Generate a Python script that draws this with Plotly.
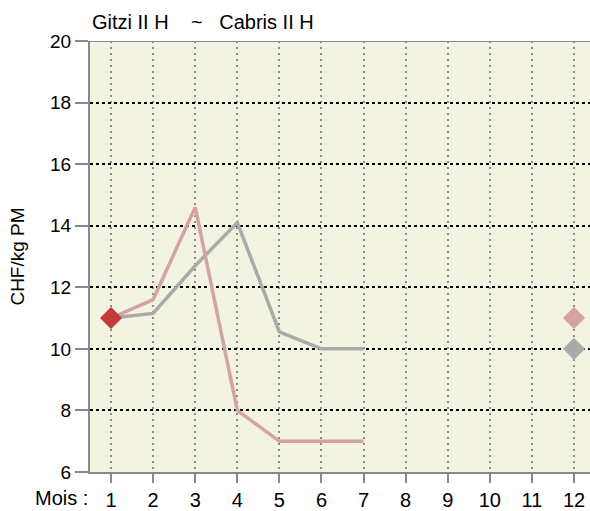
import plotly.graph_objects as go

months = list(range(1, 13))
gitzi_months = [1, 2, 3, 4, 5, 6, 7]
gitzi_values = [11.0, 11.6, 14.6, 8.0, 7.0, 7.0, 7.0]
cabris_months = [1, 2, 3, 4, 5, 6, 7]
cabris_values = [11.0, 11.15, 12.7, 14.1, 10.55, 10.0, 10.0]
start_month = [1]
start_value = [11.0]
end_month = [12]
gitzi_end = [11.0]
cabris_end = [10.0]

PINK = "#d4a3a3"
GREY = "#aaaaaa"
RED = "#c4393c"
FONT = "Arial, Liberation Sans, sans-serif"
NB = "\u00a0"

fig = go.Figure()

fig.add_trace(go.Scatter(x=cabris_months, y=cabris_values, mode="lines",
                         line=dict(color=GREY, width=3.5), hoverinfo="skip"))
fig.add_trace(go.Scatter(x=gitzi_months, y=gitzi_values, mode="lines",
                         line=dict(color=PINK, width=3.5), hoverinfo="skip"))
fig.add_trace(go.Scatter(x=start_month, y=start_value, mode="markers",
                         marker=dict(symbol="diamond", size=17, color=RED)))
fig.add_trace(go.Scatter(x=end_month, y=gitzi_end, mode="markers",
                         marker=dict(symbol="diamond", size=17, color=PINK)))
fig.add_trace(go.Scatter(x=end_month, y=cabris_end, mode="markers",
                         marker=dict(symbol="diamond", size=17, color=GREY)))

fig.update_layout(
    width=590, height=511,
    margin=dict(l=90, r=0, t=41, b=39),
    plot_bgcolor="#f3f3e2", paper_bgcolor="white",
    showlegend=False,
    font=dict(family=FONT, size=19, color="black"),
    annotations=[
        dict(text="Gitzi II H" + NB * 4 + "~" + NB * 3 + "Cabris II H",
             xref="paper", yref="paper", x=0, y=1.0, xanchor="left", yanchor="bottom",
             yshift=6, showarrow=False, font=dict(size=20)),
        dict(text="Mois :", xref="paper", yref="paper", x=0, y=0, xanchor="right",
             yanchor="middle", yshift=-26, xshift=0, showarrow=False, font=dict(size=20)),
    ],
    shapes=[
        dict(type="line", xref="paper", yref="y", x0=-0.026, x1=1, y0=20, y1=20,
             line=dict(color="#888888", width=2)),
    ],
)

fig.update_xaxes(
    range=[0.5, 12.38], tickvals=months, ticktext=[str(m) for m in months],
    showline=True, linecolor="#888888", linewidth=2, automargin=False,
    ticks="outside", ticklen=9, tickcolor="#888888", tickwidth=2,
    tickfont=dict(size=20),
    showgrid=True, gridcolor="#8c8c8c", griddash="2px,4px", gridwidth=2,
    zeroline=False,
)
fig.update_yaxes(
    range=[6, 20], tickvals=[6, 8, 10, 12, 14, 16, 18, 20],
    showline=True, linecolor="#888888", linewidth=2, automargin=False,
    ticks="outside", ticklen=13, tickcolor="#888888", tickwidth=2,
    tickfont=dict(size=19),
    showgrid=True, gridcolor="black", griddash="3px,3px", gridwidth=2,
    zeroline=False,
    title=dict(text="CHF/kg PM", standoff=20, font=dict(size=19)),
)

fig.write_html("out.html", config={"displayModeBar": False},
               post_script="document.body.style.margin='0';")
